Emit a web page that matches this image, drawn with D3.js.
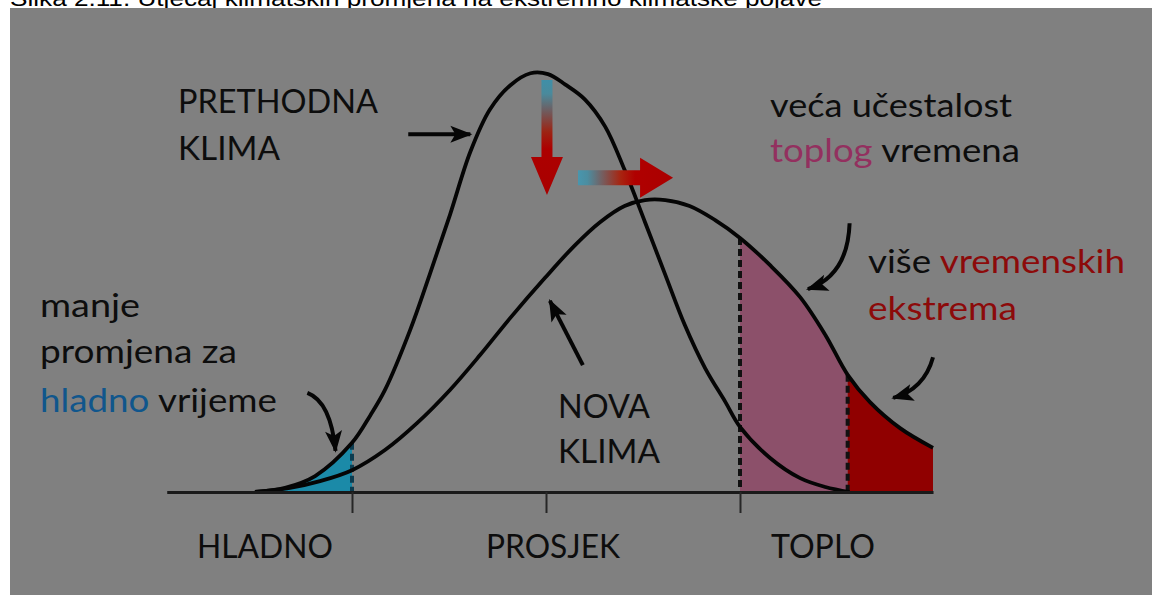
<!DOCTYPE html>
<html>
<head>
<meta charset="utf-8">
<script src="https://cdn.jsdelivr.net/npm/d3@7"></script>
<style>
  body { margin: 0; background: #fff; }
  svg { display: block; }
</style>
</head>
<body>
<svg id="chart" width="1152" height="595"></svg>
<script>
"use strict";

// x = distance from the average (std units), y = relative frequency
const oldX = [-3.00, -2.69, -2.38, -2.00, -1.81, -1.66, -1.40, -1.20, -0.99, -0.78, -0.58, -0.37, -0.16, 0.02, 0.20, 0.40, 0.61, 0.81, 1.02, 1.23, 1.43, 1.64, 1.85, 2.00, 2.31, 2.62, 2.88, 3.13];
const oldY = [0, 0.010, 0.038, 0.117, 0.183, 0.243, 0.386, 0.517, 0.660, 0.810, 0.910, 0.968, 0.997, 0.995, 0.970, 0.935, 0.870, 0.767, 0.643, 0.517, 0.398, 0.295, 0.214, 0.155, 0.081, 0.033, 0.012, 0];

const newX = [-3.00, -2.64, -2.33, -2.00, -1.66, -1.33, -0.99, -0.68, -0.37, -0.01, 0.30, 0.56, 0.81, 1.02, 1.23, 1.48, 1.74, 2.00, 2.31, 2.62, 2.88, 3.11, 3.34, 3.65, 3.99];
const newY = [0, 0.010, 0.026, 0.052, 0.100, 0.164, 0.243, 0.326, 0.414, 0.510, 0.588, 0.643, 0.681, 0.695, 0.695, 0.681, 0.648, 0.605, 0.540, 0.464, 0.374, 0.279, 0.214, 0.152, 0.105];

const tickValues = [-2, 0, 2];
const tickLabels = ["HLADNO", "PROSJEK", "TOPLO"];
const axisExtent = [-3.91, 3.99];
const coldLimit = -2, warmLimit = 2, extremeLimit = 3.11;

const caption = "Slika 2.11. Utjecaj klimatskih promjena na ekstremno klimatske pojave";

const ink = "#0d0d0d", pinkText = "#93305f", redText = "#8c0a0a", blueText = "#10568c";

const svg = d3.select("#chart");
const x = d3.scaleLinear().domain([-2, 2]).range([352, 740]);
const y = d3.scaleLinear().domain([0, 1]).range([492, 72]);

svg.append("text")
  .attr("x", 10).attr("y", 6)
  .attr("font-family", "'Liberation Sans', Arial, sans-serif")
  .attr("font-size", 22)
  .attr("textLength", 812).attr("lengthAdjust", "spacingAndGlyphs")
  .attr("fill", "#000")
  .text(caption);

svg.append("rect").attr("x", 10).attr("y", 8).attr("width", 1142).attr("height", 587).attr("fill", "#808080");

const defs = svg.append("defs");
const oldPts = oldX.map((v, i) => [v, oldY[i]]);
const newPts = newX.map((v, i) => [v, newY[i]]);

function clip(id, a, b) {
  defs.append("clipPath").attr("id", id).append("rect")
    .attr("x", x(a)).attr("y", 0).attr("width", x(b) - x(a)).attr("height", y(0));
}
clip("clipCold", axisExtent[0], coldLimit);
clip("clipWarm", warmLimit, extremeLimit);
clip("clipExtreme", extremeLimit, axisExtent[1]);

const smooth = d3.curveCatmullRom.alpha(0.5);
const area = d3.area().x(d => x(d[0])).y0(y(0)).y1(d => Math.min(y(0), y(d[1]))).curve(smooth);
const line = d3.line().x(d => x(d[0])).y(d => y(d[1])).curve(smooth);

svg.append("path").attr("d", area(oldPts)).attr("fill", "#1b8aa8").attr("clip-path", "url(#clipCold)");
svg.append("path").attr("d", area(newPts)).attr("fill", "#8c506a").attr("clip-path", "url(#clipWarm)");
svg.append("path").attr("d", area(newPts)).attr("fill", "#900000").attr("clip-path", "url(#clipExtreme)");

// threshold lines
function topAt(pts, v) {
  return pts.find(p => Math.abs(p[0] - v) < 0.005)[1];
}
[[coldLimit, topAt(oldPts, coldLimit), "#0c3c50"],
 [warmLimit, topAt(newPts, warmLimit), "#111"],
 [extremeLimit, topAt(newPts, extremeLimit), "#111"]].forEach(([v, t, c]) => {
  svg.append("line")
    .attr("x1", x(v)).attr("x2", x(v)).attr("y1", y(t)).attr("y2", y(0))
    .attr("stroke", c).attr("stroke-width", 4).attr("stroke-dasharray", "7,4");
});

svg.append("path").attr("d", line(oldPts)).attr("fill", "none").attr("stroke", "#050505").attr("stroke-width", 3.8);
svg.append("path").attr("d", line(newPts)).attr("fill", "none").attr("stroke", "#050505").attr("stroke-width", 3.8);

// axis
const axisScale = x.copy().domain(axisExtent).range(axisExtent.map(x));
const axisG = svg.append("g").attr("transform", `translate(0,${y(0)})`)
  .call(d3.axisBottom(axisScale).tickValues(tickValues).tickSize(21).tickSizeOuter(0).tickFormat(""));
axisG.select(".domain").attr("stroke", "#1a1a1a").attr("stroke-width", 3);
axisG.selectAll(".tick line").attr("stroke", "#262626").attr("stroke-width", 2);

// arrows
const headPath = "M2,0 L-20,-8.5 L-15,0 L-20,8.5 Z";
defs.append("marker").attr("id", "head")
  .attr("viewBox", "-22 -10 26 20").attr("refX", 0).attr("refY", 0)
  .attr("markerWidth", 26).attr("markerHeight", 20)
  .attr("markerUnits", "userSpaceOnUse").attr("orient", "auto")
  .append("path").attr("d", headPath).attr("fill", "#050505");

function arrow(pts) {
  const p = d3.path();
  p.moveTo(x(pts[0][0]), y(pts[0][1]));
  if (pts.length === 3) p.quadraticCurveTo(x(pts[1][0]), y(pts[1][1]), x(pts[2][0]), y(pts[2][1]));
  else p.lineTo(x(pts[1][0]), y(pts[1][1]));
  svg.append("path").attr("d", p.toString()).attr("fill", "none")
    .attr("stroke", "#050505").attr("stroke-width", 4).attr("marker-end", "url(#head)");
}
arrow([[-1.42, 0.852], [-0.78, 0.852]]);
arrow([[0.38, 0.302], [0.04, 0.455]]);
arrow([[3.13, 0.640], [3.11, 0.515], [2.70, 0.483]]);
arrow([[3.99, 0.321], [3.90, 0.245], [3.58, 0.224]]);
arrow([[-2.46, 0.236], [-2.22, 0.215], [-2.17, 0.098]]);

// shift arrows (gradient)
const gDown = defs.append("linearGradient").attr("id", "gDown").attr("x1", 0).attr("y1", 0).attr("x2", 0).attr("y2", 1);
[[0, "#3f8fa8"], [0.12, "#4a8a9c"], [0.45, "#9c2414"], [0.6, "#ad0000"], [1, "#a80000"]]
  .forEach(([o, c]) => gDown.append("stop").attr("offset", o).attr("stop-color", c));
const gRight = defs.append("linearGradient").attr("id", "gRight").attr("x1", 0).attr("y1", 0).attr("x2", 1).attr("y2", 0);
[[0, "#4896ae"], [0.1, "#4c8da0"], [0.45, "#a82410"], [0.6, "#b00000"], [1, "#aa0000"]]
  .forEach(([o, c]) => gRight.append("stop").attr("offset", o).attr("stop-color", c));

{
  const cx = x(0.01), top = y(0.981), tip = y(0.707);
  const sw = 5.5, hw = 16, hl = 38;
  svg.append("path").attr("fill", "url(#gDown)")
    .attr("d", `M${cx - sw},${top} L${cx + sw},${top} L${cx + sw},${tip - hl} L${cx + hw},${tip - hl} L${cx},${tip} L${cx - hw},${tip - hl} L${cx - sw},${tip - hl} Z`);
}
{
  const cy = y(0.748), left = x(0.33), tip = x(1.31);
  const sh = 7.5, hh = 20, hl = 33;
  svg.append("path").attr("fill", "url(#gRight)")
    .attr("d", `M${left},${cy - sh} L${tip - hl},${cy - sh} L${tip - hl},${cy - hh} L${tip},${cy} L${tip - hl},${cy + hh} L${tip - hl},${cy + sh} L${left},${cy + sh} Z`);
}

// labels
function label(px, py, parts, len) {
  const t = svg.append("text").attr("x", px).attr("y", py)
    .attr("font-family", "Lato, 'Open Sans', sans-serif").attr("font-size", 32)
    .attr("textLength", len).attr("lengthAdjust", "spacingAndGlyphs");
  parts.forEach(([s, c]) => t.append("tspan").attr("fill", c).text(s));
}
label(178, 113, [["PRETHODNA", ink]], 200);
label(178, 160, [["KLIMA", ink]], 102);
label(770, 117, [["veća učestalost", ink]], 242);
label(770, 162, [["toplog", pinkText], [" vremena", ink]], 250);
label(868, 273, [["više ", ink], ["vremenskih", redText]], 257);
label(868, 320, [["ekstrema", redText]], 149);
label(40, 317, [["manje", ink]], 100);
label(40, 363, [["promjena za", ink]], 197);
label(40, 412, [["hladno", blueText], [" vrijeme", ink]], 237);
label(558, 418, [["NOVA", ink]], 92);
label(558, 463, [["KLIMA", ink]], 102);

const tickLabelX = [197, 486, 771];
const tickLabelLen = [136, 134, 104];
tickLabels.forEach((s, i) => label(tickLabelX[i], 558, [[s, ink]], tickLabelLen[i]));
</script>
</body>
</html>
